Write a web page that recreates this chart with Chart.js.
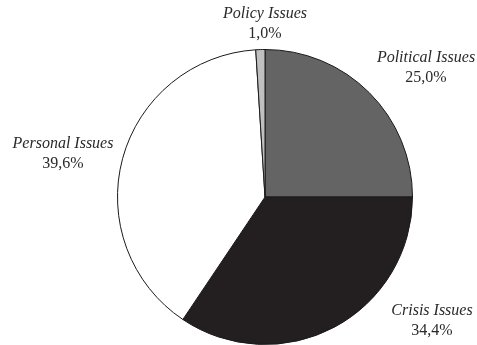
<!DOCTYPE html>
<html>
<head>
<meta charset="utf-8">
<script src="https://cdn.jsdelivr.net/npm/chart.js@4"></script>
<style>
  html, body { margin: 0; padding: 0; background: #fff; }
  #wrap { width: 477px; height: 345px; }
</style>
</head>
<body>
<div id="wrap"><canvas id="pie"></canvas></div>
<script>
"use strict";

// Data (clockwise from 12 o'clock)
const categories = ["Political Issues", "Crisis Issues", "Personal Issues", "Policy Issues"];
const shares = [25.0, 34.4, 39.6, 1.0];
const sliceColors = ["#646464", "#231f20", "#ffffff", "#c0c0c0"];

// Label placement, relative to the pie centre (layout only)
const labelOffsets = [[161, -139], [167, 114], [-202, -53], [0, -183]];

const sliceLabels = {
  id: "sliceLabels",
  afterDraw(chart) {
    const ctx = chart.ctx;
    const arcs = chart.getDatasetMeta(0).data;
    ctx.save();
    ctx.fillStyle = "#2a2a2a";
    ctx.textAlign = "center";
    ctx.textBaseline = "middle";
    arcs.forEach((arc, i) => {
      const x = arc.x + labelOffsets[i][0];
      const y = arc.y + labelOffsets[i][1];
      ctx.font = "italic 16px 'Liberation Serif', serif";
      ctx.fillText(categories[i], x, y);
      ctx.font = "16px 'Liberation Serif', serif";
      ctx.fillText(shares[i].toFixed(1).replace(".", ",") + "%", x, y + 20);
    });
    ctx.restore();
  }
};

new Chart(document.getElementById("pie"), {
  type: "pie",
  data: {
    labels: categories,
    datasets: [{
      data: shares,
      backgroundColor: sliceColors,
      borderColor: "#1a1a1a",
      borderWidth: 1
    }]
  },
  options: {
    responsive: true,
    maintainAspectRatio: false,
    animation: false,
    layout: { padding: { left: 117, right: 64, top: 49, bottom: 0 } },
    plugins: {
      legend: { display: false },
      tooltip: { enabled: false }
    }
  },
  plugins: [sliceLabels]
});
</script>
</body>
</html>
